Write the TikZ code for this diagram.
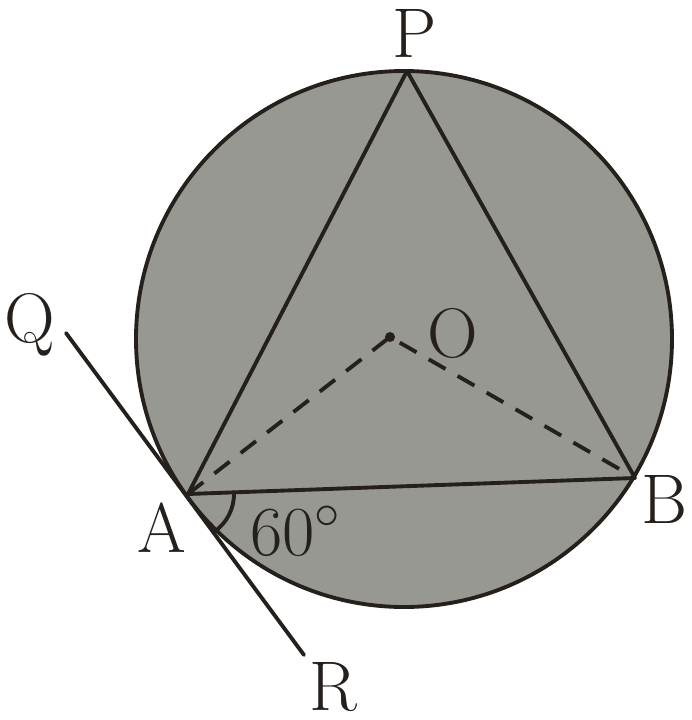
\documentclass[tikz,border=0pt]{standalone}
\usetikzlibrary{calc}

\definecolor{ink}{RGB}{38,32,28}
\definecolor{shade}{RGB}{152,152,147}

\begin{document}
\begin{tikzpicture}[
  x=0.1mm, y=-0.1mm,
  every node/.style = {font=\fontsize{20}{24}\selectfont, text=ink, inner sep=0pt},
  edge/.style = {draw=ink, line width=1.1pt, line cap=round},
  radial/.style = {edge, line cap=butt, dash pattern=on 5.5pt off 4pt},
  letter/.style = {anchor=base}
]

\useasboundingbox (0,0) rectangle (691,720);

% circle
\coordinate (centre) at (404,339);
\filldraw[fill=shade, draw=ink, line width=1.1pt] (centre) circle[radius=268];

% points on the circle, centre O, ends of the tangent
\coordinate (P) at (407,71);
\coordinate (A) at (188,494);
\coordinate (B) at (635,478);
\coordinate (O) at (390,337);
\coordinate (Qend) at (66,333);
\coordinate (Rend) at (304,655);

\draw[edge, line join=round] (A) -- (P) -- (B) -- cycle;
\draw[radial] (A) -- (O) -- (B);
\fill[ink] (O) circle[radius=5];

% tangent at A
\draw[edge] (Qend) -- (Rend);

% angle between chord AB and tangent
\draw[edge] ($(A)+(-2:46)$) arc[start angle=-2, end angle=56, radius=46];

\node[letter] (Plabel) at (415,57) {P};
\node[letter] (Olabel) at (453,357) {O};
\node[letter] (Alabel) at (162,552) {A};
\node[letter] (Blabel) at (664,523) {B};
\node[letter] (Qlabel) at (30,342) {Q};
\node[letter] (Rlabel) at (333,710) {R};
\node[letter] (angle) at (296,555) {60$^\circ$};

\end{tikzpicture}
\end{document}
